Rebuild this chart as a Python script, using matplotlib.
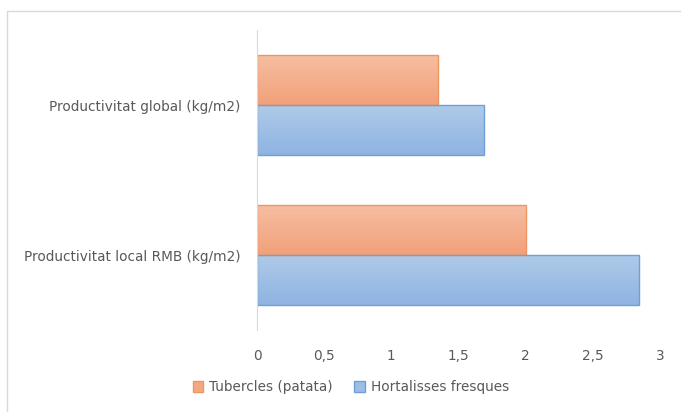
import numpy as np
import matplotlib.pyplot as plt
from matplotlib.patches import Rectangle, Patch
from matplotlib.colors import LinearSegmentedColormap

# dades
categories = ['Productivitat local RMB (kg/m2)', 'Productivitat global (kg/m2)']
tubercles = [2.0, 1.35]
hortalisses = [2.84, 1.69]
series_noms = ['Tubercles (patata)', 'Hortalisses fresques']
xticks = [0, 0.5, 1, 1.5, 2, 2.5, 3]
xtick_labels = ['0', '0,5', '1', '1,5', '2', '2,5', '3']

plt.rcParams['font.family'] = ['DejaVu Sans']
gris_text = '#595959'

fig = plt.figure(figsize=(6.81, 4.12), dpi=100)
ax = fig.add_axes([0.3774, 0.199, 0.5918, 0.728])

# marc del grafic
fig.patches.append(Rectangle((7 / 681, -0.1), 1.2, 1 - 11 / 412 + 0.1,
                             transform=fig.transFigure, fill=False,
                             edgecolor='#D9D9D9', linewidth=1))

alt = 1 / 3
y = np.arange(len(categories))

estils = [
    (tubercles, alt / 2, ('#F6BEA2', '#F2A079'), '#EE9660'),
    (hortalisses, -alt / 2, ('#AFCAE8', '#8EB4E2'), '#6E9FD7'),
]

for valors, desp, (c_dalt, c_baix), vora in estils:
    cmap = LinearSegmentedColormap.from_list('g', [c_baix, c_dalt])
    barres = ax.barh(y + desp, valors, height=alt, color='none',
                     edgecolor=vora, linewidth=1.0, zorder=3)
    for b in barres:
        x0, y0 = b.get_x(), b.get_y()
        w, h = b.get_width(), b.get_height()
        grad = np.linspace(0, 1, 100).reshape(-1, 1)
        im = ax.imshow(grad, cmap=cmap, aspect='auto', origin='lower',
                       extent=[x0, x0 + w, y0, y0 + h], zorder=2)
        im.set_clip_path(b)

ax.set_xlim(0, 3)
ax.set_ylim(-0.5, 1.5)
ax.set_xticks(xticks)
ax.set_xticklabels(xtick_labels)
ax.set_yticks(y)
ax.set_yticklabels(categories)
ax.tick_params(axis='both', length=0, colors=gris_text, labelsize=9.8)
ax.tick_params(axis='y', pad=12)
ax.tick_params(axis='x', pad=14)

for s in ['top', 'right', 'bottom']:
    ax.spines[s].set_visible(False)
ax.spines['left'].set_color('#D9D9D9')
ax.spines['left'].set_zorder(4)

handles = [Patch(facecolor='#F3A883', edgecolor='#EE9660'),
           Patch(facecolor='#9CBDE4', edgecolor='#6E9FD7')]
leg = fig.legend(handles, series_noms, loc='center', bbox_to_anchor=(0.515, 0.06),
                 ncol=2, frameon=False, fontsize=9.8, handlelength=0.8,
                 handleheight=0.8, handletextpad=0.4, columnspacing=1.6)
for t in leg.get_texts():
    t.set_color(gris_text)

fig.savefig('out.png', dpi=100)
